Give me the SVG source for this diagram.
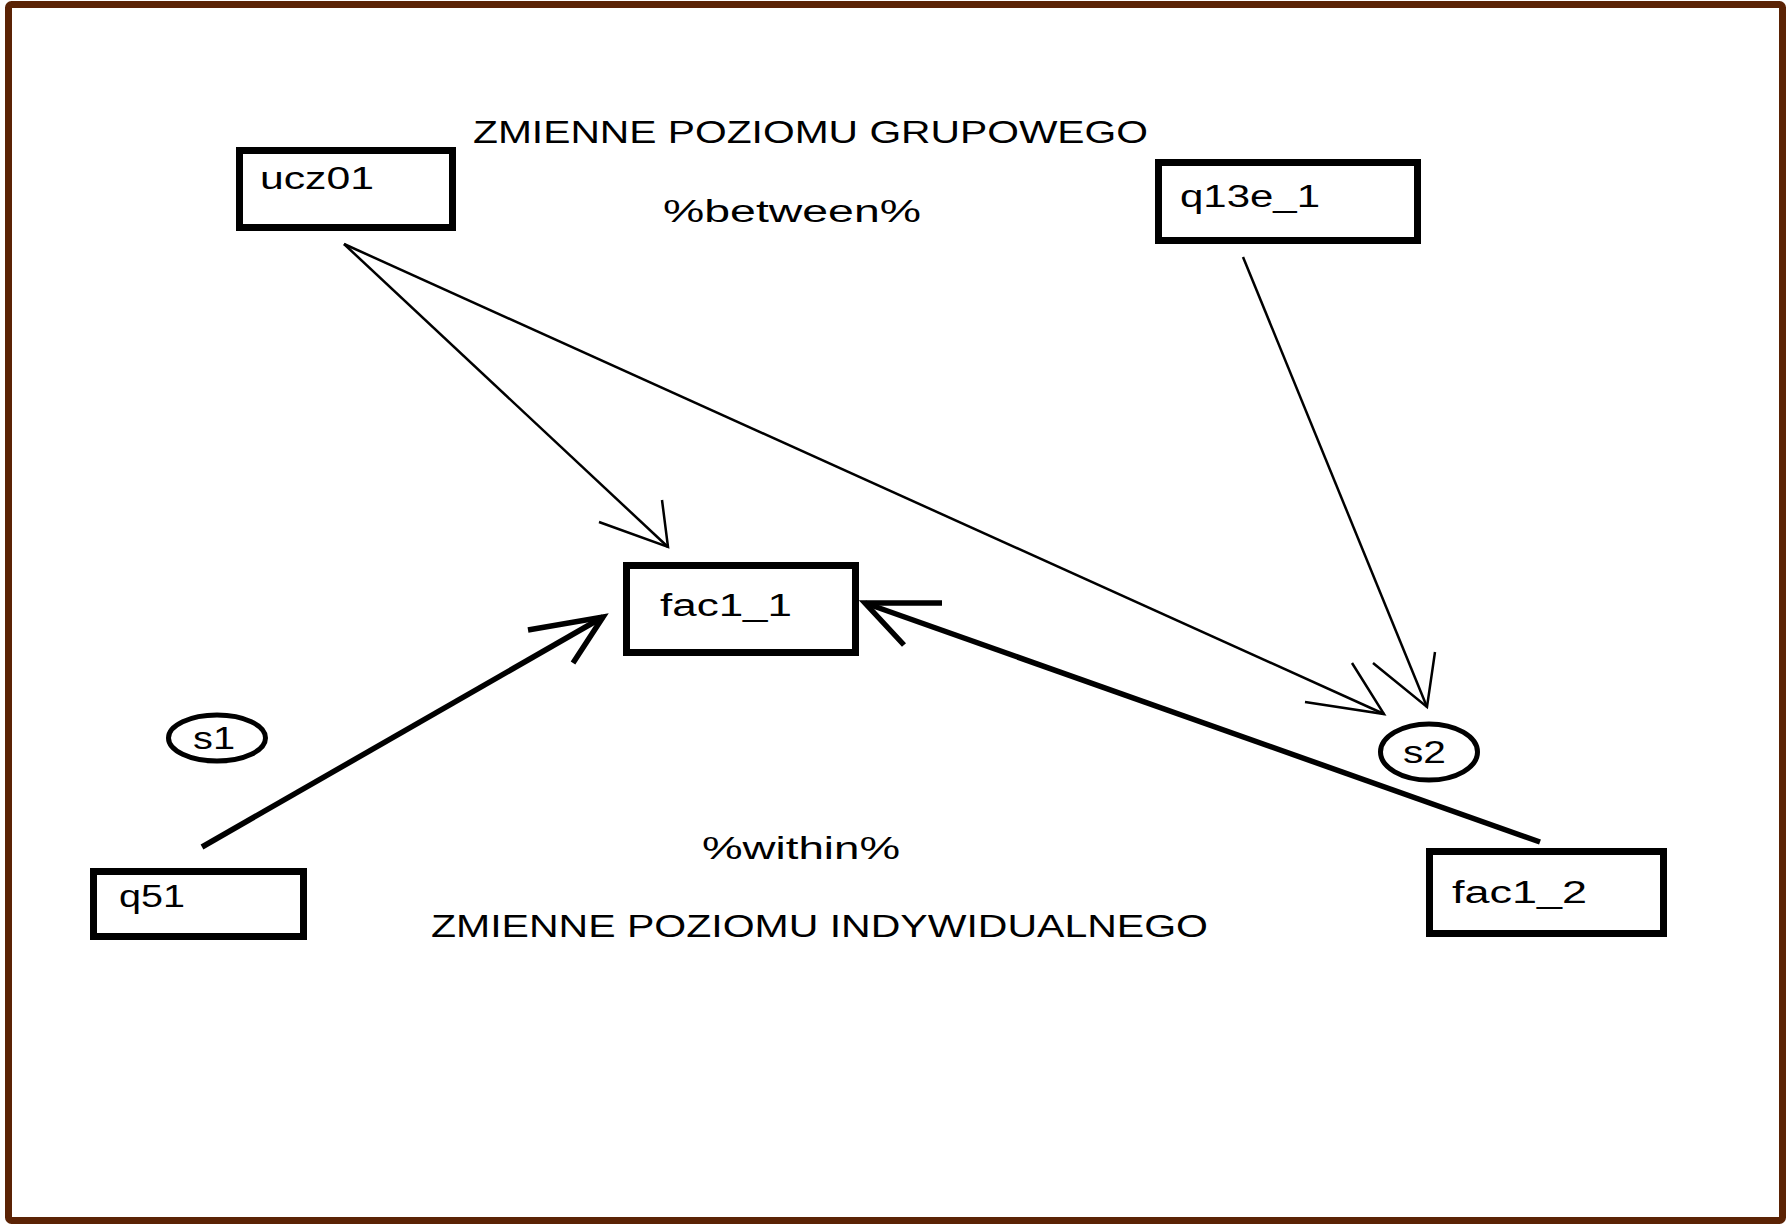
<svg xmlns="http://www.w3.org/2000/svg" width="1787" height="1225" viewBox="0 0 1787 1225">
<style>
  .box { fill: #fff; stroke: #000; stroke-width: 7; }
  .ell { fill: #fff; stroke: #000; stroke-width: 5; }
  .lbl { font-family: "Liberation Sans", Arial, sans-serif; font-size: 31px; fill: #000; }
  .thin { fill: none; stroke: #000; stroke-width: 2.5; }
  .thick { fill: none; stroke: #000; stroke-width: 5.5; }
</style>
<rect x="0" y="0" width="1787" height="1225" fill="#fff"/>
<rect x="8.5" y="4.5" width="1774" height="1216" rx="3" fill="none" stroke="#5B2305" stroke-width="7"/>

<g id="title-top">
  <text class="lbl" x="473" y="143" textLength="675" lengthAdjust="spacingAndGlyphs">ZMIENNE POZIOMU GRUPOWEGO</text>
  <text class="lbl" x="663" y="222" textLength="258" lengthAdjust="spacingAndGlyphs">%between%</text>
</g>
<g id="title-bottom">
  <text class="lbl" x="702" y="859" textLength="198" lengthAdjust="spacingAndGlyphs">%within%</text>
  <text class="lbl" x="431" y="937" textLength="777" lengthAdjust="spacingAndGlyphs">ZMIENNE POZIOMU INDYWIDUALNEGO</text>
</g>

<g id="connectors">
  <!-- ucz01 -> fac1_1 -->
  <path class="thin" d="M344 244 L668 547"/>
  <path class="thin" d="M662 500 L668 547 L599 522"/>
  <!-- ucz01 -> s2 -->
  <path class="thin" d="M344 244 L1384 714"/>
  <path class="thin" d="M1352 663 L1384 714 L1305 702"/>
  <!-- q13e_1 -> s2 -->
  <path class="thin" d="M1243 257 L1427 707"/>
  <path class="thin" d="M1435 652 L1427 707 L1373 663"/>
  <!-- q51 -> fac1_1 -->
  <path class="thick" d="M202 847 L603 617"/>
  <path class="thick" d="M528 630 L603 617 L573 663"/>
  <!-- fac1_2 -> fac1_1 -->
  <path class="thick" d="M1540 842 L865 603"/>
  <path class="thick" d="M942 603 L865 603 L904 645"/>
</g>

<g id="ucz01">
  <rect class="box" x="239.5" y="150.5" width="213" height="77"/>
  <text class="lbl" x="260" y="189" textLength="114" lengthAdjust="spacingAndGlyphs">ucz01</text>
</g>
<g id="q13e_1">
  <rect class="box" x="1158.5" y="162.5" width="259" height="78"/>
  <text class="lbl" x="1180" y="207" textLength="140" lengthAdjust="spacingAndGlyphs">q13e_1</text>
</g>
<g id="fac1_1">
  <rect class="box" x="626.5" y="565.5" width="229" height="87"/>
  <text class="lbl" x="660" y="616" textLength="132" lengthAdjust="spacingAndGlyphs">fac1_1</text>
</g>
<g id="q51">
  <rect class="box" x="93.5" y="871.5" width="210" height="65"/>
  <text class="lbl" x="119" y="907" textLength="66" lengthAdjust="spacingAndGlyphs">q51</text>
</g>
<g id="fac1_2">
  <rect class="box" x="1429.5" y="851.5" width="234" height="82"/>
  <text class="lbl" x="1452" y="903" textLength="135" lengthAdjust="spacingAndGlyphs">fac1_2</text>
</g>
<g id="s1">
  <ellipse class="ell" cx="217" cy="738" rx="48.5" ry="23"/>
  <text class="lbl" x="193" y="749" textLength="42" lengthAdjust="spacingAndGlyphs">s1</text>
</g>
<g id="s2">
  <ellipse class="ell" cx="1429" cy="752" rx="48.5" ry="28"/>
  <text class="lbl" x="1403" y="763" textLength="43" lengthAdjust="spacingAndGlyphs">s2</text>
</g>
</svg>
